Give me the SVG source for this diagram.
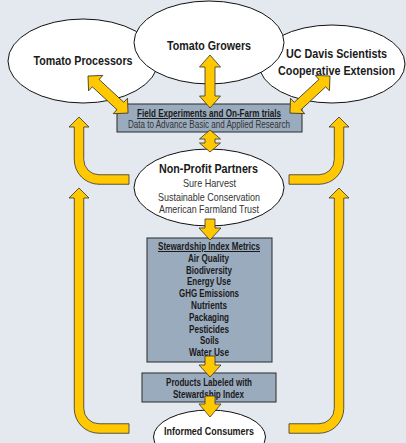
<svg xmlns="http://www.w3.org/2000/svg" width="406" height="443" viewBox="0 0 406 443">
<style>
.ell{fill:#ffffff;stroke:#111111;stroke-width:1}
.box{fill:#9aabbe;stroke:#2a2a2a;stroke-width:1}
.arr{fill:#ffc800;stroke:#333333;stroke-width:0.8;stroke-linejoin:miter}
.t{font-family:"Liberation Sans",Arial,sans-serif;text-anchor:middle;fill:#1a1a1a}
.b{font-weight:bold}
.big{font-size:12.5px}
.mid{font-size:10.5px}
.sm{font-size:10px}
.u{text-decoration:underline}
.g{fill:#333333;font-weight:normal}
</style>
<rect x="0" y="0" width="406" height="443" fill="#e3e9ef"/>

<g id="node-processors">
<ellipse class="ell" cx="83" cy="61" rx="75" ry="42"/>
<text class="t b big" x="83" y="65" textLength="99" lengthAdjust="spacingAndGlyphs">Tomato Processors</text>
</g>
<g id="node-ucdavis">
<ellipse class="ell" cx="332" cy="64" rx="73" ry="39"/>
<text class="t b big" x="336.5" y="58" textLength="101" lengthAdjust="spacingAndGlyphs">UC Davis Scientists</text>
<text class="t b big" x="336.5" y="75" textLength="117" lengthAdjust="spacingAndGlyphs">Cooperative Extension</text>
</g>
<g id="node-growers">
<ellipse class="ell" cx="209" cy="42.5" rx="75" ry="41.5"/>
<text class="t b big" x="209" y="50" textLength="84" lengthAdjust="spacingAndGlyphs">Tomato Growers</text>
</g>

<g id="node-field">
<rect class="box" x="117" y="104" width="185" height="28"/>
<text class="t b sm u" x="209" y="117" textLength="144" lengthAdjust="spacingAndGlyphs">Field Experiments and On-Farm trials</text>
<text class="t sm g" x="209" y="128" textLength="162" lengthAdjust="spacingAndGlyphs">Data to Advance Basic and Applied Research</text>
</g>

<g id="node-nonprofit">
<ellipse class="ell" cx="209" cy="187.5" rx="75" ry="38.5"/>
<text class="t b big" x="208.5" y="173" textLength="99" lengthAdjust="spacingAndGlyphs">Non-Profit Partners</text>
<text class="t mid g" x="209.5" y="187" textLength="53" lengthAdjust="spacingAndGlyphs">Sure Harvest</text>
<text class="t mid g" x="209" y="201" textLength="102" lengthAdjust="spacingAndGlyphs">Sustainable Conservation</text>
<text class="t mid g" x="209" y="213" textLength="100" lengthAdjust="spacingAndGlyphs">American Farmland Trust</text>
</g>

<g id="node-metrics">
<rect class="box" x="147" y="238" width="125" height="124"/>
<text class="t b sm u" x="209" y="250" textLength="102" lengthAdjust="spacingAndGlyphs">Stewardship Index Metrics</text>
<text class="t b sm" x="208.5" y="261.8" textLength="41" lengthAdjust="spacingAndGlyphs">Air Quality</text>
<text class="t b sm" x="209" y="273.6" textLength="46" lengthAdjust="spacingAndGlyphs">Biodiversity</text>
<text class="t b sm" x="209" y="285.4" textLength="44" lengthAdjust="spacingAndGlyphs">Energy Use</text>
<text class="t b sm" x="209" y="297.2" textLength="60" lengthAdjust="spacingAndGlyphs">GHG Emissions</text>
<text class="t b sm" x="209" y="309" textLength="36" lengthAdjust="spacingAndGlyphs">Nutrients</text>
<text class="t b sm" x="209" y="320.8" textLength="40" lengthAdjust="spacingAndGlyphs">Packaging</text>
<text class="t b sm" x="209" y="332.6" textLength="40" lengthAdjust="spacingAndGlyphs">Pesticides</text>
<text class="t b sm" x="209.5" y="344.4" textLength="19" lengthAdjust="spacingAndGlyphs">Soils</text>
<text class="t b sm" x="209" y="356.2" textLength="40" lengthAdjust="spacingAndGlyphs">Water Use</text>
</g>

<g id="node-products">
<rect class="box" x="142" y="373" width="134" height="29"/>
<text class="t b sm" x="209" y="386" textLength="86" lengthAdjust="spacingAndGlyphs">Products Labeled with</text>
<text class="t b sm" x="208.5" y="397.5" textLength="71" lengthAdjust="spacingAndGlyphs">Stewardship Index</text>
</g>

<g id="node-consumers">
<ellipse class="ell" cx="209.5" cy="437" rx="56" ry="27"/>
<text class="t b" style="font-size:11.5px" x="209" y="435" textLength="90" lengthAdjust="spacingAndGlyphs">Informed Consumers</text>
</g>

<g id="connectors">
<path class="arr" transform="translate(88,76) rotate(42.8)" d="M0,0 L10.5,-10.5 L10.5,-5 L44.1,-5 L44.1,-10.5 L54.6,0 L44.1,10.5 L44.1,5 L10.5,5 L10.5,10.5 Z"/>
<path class="arr" transform="translate(330,76) rotate(137.2)" d="M0,0 L10.5,-10.5 L10.5,-5 L44.1,-5 L44.1,-10.5 L54.6,0 L44.1,10.5 L44.1,5 L10.5,5 L10.5,10.5 Z"/>
<path class="arr" d="M210,55 L220.5,67 L215,67 L215,96 L220.5,96 L210,108 L199.5,96 L205,96 L205,67 L199.5,67 Z"/>
<path class="arr" d="M210,130 L220.5,139 L215,139 L215,143 L220.5,143 L210,152 L199.5,143 L205,143 L205,139 L199.5,139 Z"/>
<path class="arr" d="M205,219 L215,219 L215,228 L221,228 L210,240 L199,228 L205,228 Z"/>
<path class="arr" d="M205,356 L215,356 L215,365 L221,365 L210,377 L199,365 L205,365 Z"/>
<path class="arr" d="M205,396 L215,396 L215,404 L221,404 L210,417 L199,404 L205,404 Z"/>
<path id="loop-ul" class="arr" d="M129,184.25 L99,184.25 A24.75,24.75 0 0 1 74.25,159.5 L74.25,127 L69,127 L79,117 L89,127 L83.75,127 L83.75,159.5 A15.25,15.25 0 0 0 99,174.75 L129,174.75 Z"/>
<path id="loop-ll" class="arr" d="M129,423.75 L99,423.75 A15.25,15.25 0 0 1 83.75,408.5 L83.75,198 L89,198 L79,188 L69,198 L74.25,198 L74.25,408.5 A24.75,24.75 0 0 0 99,433.25 L129,433.25 Z"/>
<path id="loop-ur" class="arr" transform="translate(418,0) scale(-1,1)" d="M129,184.25 L99,184.25 A24.75,24.75 0 0 1 74.25,159.5 L74.25,127 L69,127 L79,117 L89,127 L83.75,127 L83.75,159.5 A15.25,15.25 0 0 0 99,174.75 L129,174.75 Z"/>
<path id="loop-lr" class="arr" transform="translate(418,0) scale(-1,1)" d="M129,423.75 L99,423.75 A15.25,15.25 0 0 1 83.75,408.5 L83.75,198 L89,198 L79,188 L69,198 L74.25,198 L74.25,408.5 A24.75,24.75 0 0 0 99,433.25 L129,433.25 Z"/>
</g>
</svg>
